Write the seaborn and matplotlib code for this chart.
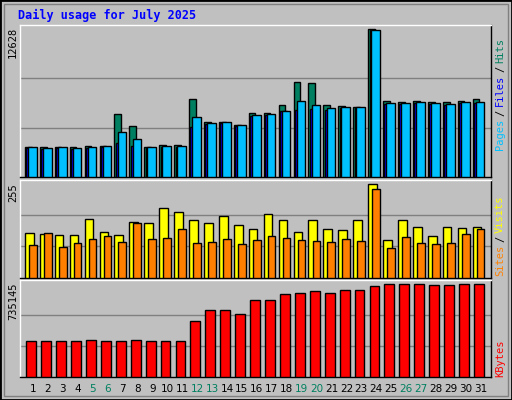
import numpy as np
import matplotlib
matplotlib.use("Agg")
import matplotlib.pyplot as plt
import seaborn as sns

days = list(range(1, 32))
hits = [2514,2514,2514,2514,2600,2600,5343,4314,2514,2686,2686,6629,4657,4657,4400,5429,5429,6114,8086,8000,6114,6029,5943,12628,6457,6371,6457,6371,6371,6457,6629]
files = [2480,2400,2480,2400,2480,2570,2857,2600,2480,2570,2570,4229,4540,4620,4370,5200,5300,5600,5686,5771,5714,5900,5900,12560,6250,6250,6340,6250,6170,6340,6340]
pages = [2514,2429,2514,2429,2514,2600,3800,3200,2514,2600,2600,5086,4571,4657,4400,5257,5343,5600,6457,6114,5857,5943,5943,12560,6286,6286,6371,6286,6200,6371,6371]
visits = [122,120,117,117,161,125,117,153,150,189,180,156,150,167,145,133,175,156,125,156,133,131,156,255,103,158,139,114,139,136,139]
sites = [89,122,84,95,106,114,98,150,106,109,133,95,98,106,92,103,114,109,103,100,98,106,100,241,81,111,95,92,95,120,133]
kbytes = [283400,283400,283400,283400,291400,283400,283400,291400,283400,283400,283400,443700,532000,532000,499900,612100,612100,652300,660300,676300,660300,684300,684300,716400,735145,735145,735145,724400,724400,732400,732400]
weekends = [5, 6, 12, 13, 19, 20, 26, 27]
title = "Daily usage for July 2025"

sns.set_theme(style="white")
plt.rcParams['font.family'] = ['DejaVu Sans Mono']
BG = "#C0C0C0"
fig = plt.figure(figsize=(5.12, 4.0), dpi=100, facecolor=BG)
W, H = 512, 400
def ax_at(x0, y0, x1, y1):
    return fig.add_axes([x0 / W, 1 - y1 / H, (x1 - x0) / W, (y1 - y0) / H])

ax1 = ax_at(20, 24.7, 491, 176.7)
ax2 = ax_at(20, 180.3, 491, 277.5)
ax3 = ax_at(20, 280.3, 491, 376.5)
x = np.array(days, dtype=float)
xlim = (1 - 0.87, 31 + 0.69)

def style(ax, top, ymax):
    ax.set_facecolor(BG)
    ax.set_xlim(*xlim)
    ax.set_ylim(0, ymax)
    for v in (top / 3, 2 * top / 3):
        ax.axhline(v, color="#808080", lw=1, zorder=0)
    ax.set_xticks([]); ax.set_yticks([])
    for s in ax.spines.values():
        s.set_color("black"); s.set_linewidth(1)
    ax.spines['left'].set_color("white"); ax.spines['top'].set_color("white")

style(ax1, 12628, 13022)
style(ax2, 255, 266)
style(ax3, 735145, 764800)

kw = dict(align="edge", edgecolor="black", linewidth=1, zorder=3)
ax1.bar(x - 0.54, hits, width=0.45, color="#008060", **kw)
ax1.bar(x - 0.45, files, width=0.45, color="#0000FF", **kw)
ax1.bar(x - 0.33, pages, width=0.58, color="#00C0FF", **kw)
ax2.bar(x - 0.54, visits, width=0.58, color="#FFFF00", **kw)
ax2.bar(x - 0.27, sites, width=0.52, color="#FF8000", **kw)
ax3.bar(x - 0.45, kbytes, width=0.66, color="#FF0000", **kw)

fs = 7.5
for lab, ytop in (("12628", 27), ("255", 183), ("735145", 283)):
    fig.text(13 / W, 1 - ytop / H, lab, rotation=90, ha="center", va="top",
             fontsize=fs, color="black")

for d in days:
    xf = ax3.transData.transform((d, 0))[0]
    fig.text(xf / W, 1 - 389 / H, str(d), ha="center", va="center", fontsize=fs,
             color="#008060" if d in weekends else "black", family="DejaVu Sans")

fig.canvas.draw()
renderer = fig.canvas.get_renderer()
def rlab(parts, ybot):
    y = ybot
    for txt, col in parts:
        t = fig.text(500 / W, 1 - y / H, txt, rotation=90, ha="center", va="bottom",
                     fontsize=fs, color=col)
        bb = t.get_window_extent(renderer)
        y -= bb.height + 3

rlab([("Pages", "#00C0FF"), ("/", "black"), ("Files", "#0000FF"),
      ("/", "black"), ("Hits", "#008060")], 150)
rlab([("Sites", "#FF8000"), ("/", "black"), ("Visits", "#FFFF00")], 276)
rlab([("KBytes", "#FF0000")], 377)

fig.text(18 / W, 1 - 15 / H, title, ha="left", va="center", fontsize=8.5,
         fontweight="bold", color="#0000FF")

from matplotlib.patches import Rectangle
fig.patches.append(Rectangle((0, 0), 1, 1, transform=fig.transFigure, fill=False,
                             edgecolor="black", lw=2))
fig.patches.append(Rectangle((4 / W, 4 / H), 1 - 8 / W, 1 - 8 / H, transform=fig.transFigure,
                             fill=False, edgecolor="#808080", lw=1))

fig.savefig("out.png", dpi=100, facecolor=BG)
